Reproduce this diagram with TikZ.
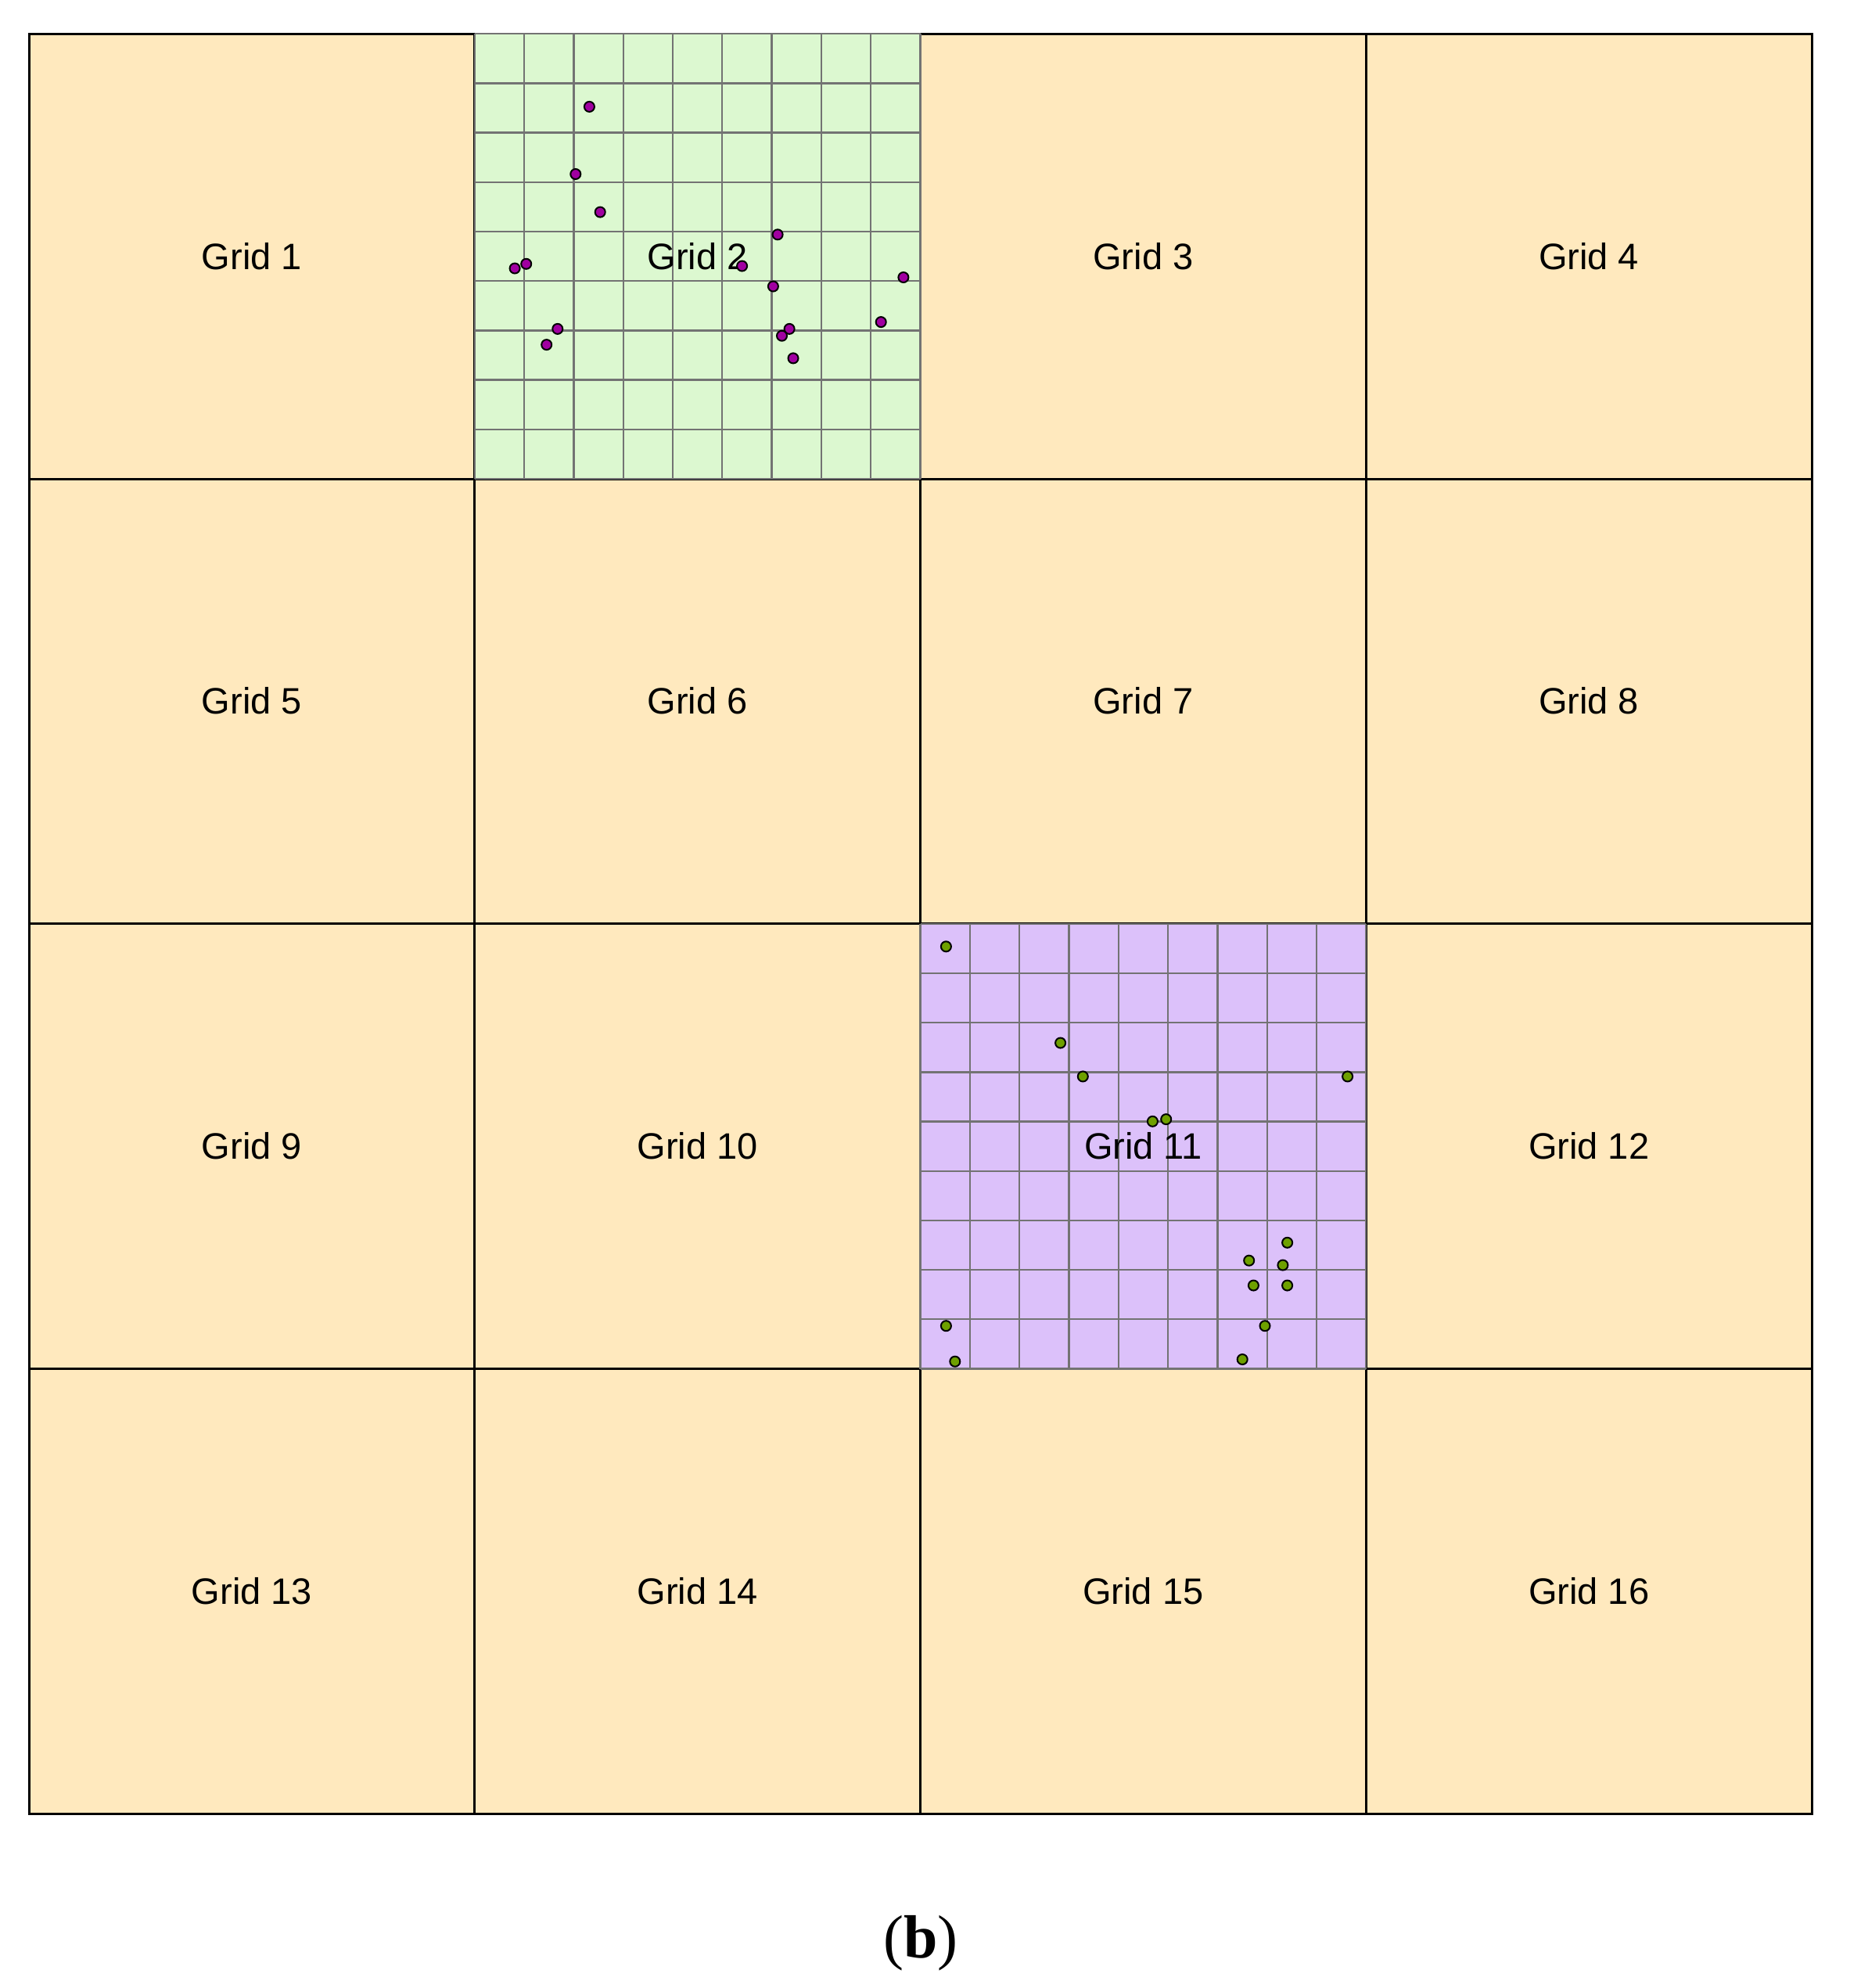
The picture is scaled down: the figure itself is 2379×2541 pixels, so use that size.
\documentclass[tikz,border=0pt]{standalone}
\usepackage{fontspec}
\setmainfont{Liberation Sans}
\newfontfamily\capfont{Liberation Serif}
\definecolor{sand}{RGB}{255,233,190}
\definecolor{mint}{RGB}{220,248,208}
\definecolor{lav}{RGB}{220,193,250}
\definecolor{gline}{RGB}{115,115,115}
\definecolor{dotm}{RGB}{160,0,160}
\definecolor{dotg}{RGB}{110,160,0}
\tikzset{
  cellbox/.style={fill=sand,draw=black,line width=3pt},
  sublines/.style={draw=gline,line width=2.3pt},
  lbl/.style={font=\fontsize{47}{56}\selectfont,inner sep=0pt,anchor=base},
  mdot/.style={fill=dotm,draw=black,line width=2pt},
  gdot/.style={fill=dotg,draw=black,line width=2pt},
}
\begin{document}
\begin{tikzpicture}[x=1pt,y=-1pt]
\useasboundingbox (0,0) rectangle (2379,2541);
\def\X{37}\def\Y{43.25}\def\W{569.75}\def\H{568.75}
% cells
\foreach \r in {0,...,3}{
  \foreach \c in {0,...,3}{
    \draw[cellbox] ({\X+\c*\W},{\Y+\r*\H}) rectangle ++(\W,\H);
  }
}
% subgrid in Grid 2
\fill[mint] ({\X+\W},{\Y}) rectangle ++(\W,\H);
\foreach \i in {0,...,9}{
  \draw[sublines] ({\X+\W+\i*\W/9},{\Y}) -- ++(0,\H);
  \draw[sublines] ({\X+\W},{\Y+\i*\H/9}) -- ++(\W,0);
}
% subgrid in Grid 11
\fill[lav] ({\X+2*\W},{\Y+2*\H}) rectangle ++(\W,\H);
\foreach \i in {0,...,9}{
  \draw[sublines] ({\X+2*\W+\i*\W/9},{\Y+2*\H}) -- ++(0,\H);
  \draw[sublines] ({\X+2*\W},{\Y+2*\H+\i*\H/9}) -- ++(\W,0);
}
% labels
\foreach \n in {1,...,16}{
  \pgfmathtruncatemacro{\cc}{mod(\n-1,4)}
  \pgfmathtruncatemacro{\rr}{div(\n-1,4)}
  \node[lbl] (g\n) at ({\X+(\cc+0.5)*\W},{\Y+(\rr+0.5)*\H+16.5}) {Grid \n};
}
% points in Grid 2
\foreach \px/\py in {753.4/136.4, 735.8/222.5, 767.2/271.1, 658.1/343.0, 672.7/337.3,
  994.1/299.8, 948.6/340.0, 988.4/366.0, 1154.9/354.5, 712.8/420.4, 698.7/440.6,
  1009.1/420.4, 999.5/429.2, 1014.0/457.9, 1126.2/411.6}{
  \draw[mdot] (\px,\py) circle (6.5);
}
% points in Grid 11
\foreach \px/\py in {1209.4/1209.8, 1355.6/1333.0, 1384.3/1375.9, 1722.6/1375.9,
  1473.4/1433.3, 1490.7/1430.6, 1645.6/1588.3, 1596.7/1611.2, 1639.9/1617.0,
  1602.4/1643.0, 1645.6/1643.0, 1209.4/1694.7, 1617.0/1694.7, 1220.8/1740.2,
  1588.2/1737.5}{
  \draw[gdot] (\px,\py) circle (6.5);
}
% caption
\node[font=\capfont\fontsize{78}{94}\selectfont,inner sep=0pt,anchor=base] (cap) at (1177,2502) {(\textbf{b})};
\end{tikzpicture}
\end{document}
